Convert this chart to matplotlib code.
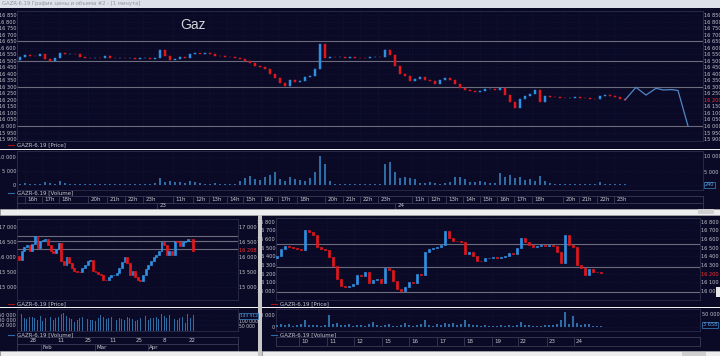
import numpy as np
import matplotlib.pyplot as plt
from matplotlib.patches import Rectangle
from matplotlib.lines import Line2D

BG = '#0a0a26'
TXT = '#c6c6d0'
UP = '#2f8fe0'
DOWN = '#e3161b'
VOLC = '#2e6ca6'
LEVEL = '#6c6c7e'
GRID = '#1a1a44'
EDGE = '#2c2c4c'
FS = 4.0
TFS = 3.6

# ---- top chart: 1 minute bars, one close per bar
top_open0 = 16505
top_close = [16530, 16545, 16540, 16535, 16548, 16510, 16498, 16520, 16558, 16552,
             16555, 16550, 16525, 16522, 16520, 16524, 16518, 16535, 16520, 16518,
             16522, 16518, 16520, 16515, 16518, 16520, 16516, 16520, 16585, 16535,
             16505, 16510, 16530, 16520, 16550, 16558, 16555, 16560, 16550, 16540,
             16535, 16530, 16528, 16520, 16515, 16500, 16480, 16462, 16450, 16440,
             16400, 16370, 16330, 16305, 16350, 16340, 16345, 16372, 16380, 16440,
             16630, 16520, 16530, 16525, 16528, 16522, 16526, 16524, 16522, 16520,
             16525, 16530, 16528, 16585, 16545, 16460, 16398, 16380, 16345, 16360,
             16378, 16350, 16345, 16325, 16350, 16368, 16355, 16320, 16290, 16272,
             16268, 16262, 16270, 16280, 16285, 16278, 16290, 16240, 16180, 16140,
             16210, 16230, 16245, 16275, 16180, 16232, 16225, 16222, 16215, 16212,
             16218, 16222, 16215, 16212, 16210, 16205, 16232, 16238, 16230, 16225,
             16210, 16200]
top_vol = [400, 600, 300, 500, 350, 900, 700, 400, 1500, 600, 500, 400,
           300, 200, 350, 250, 300, 200, 400, 300, 250, 200, 300, 350, 250, 300, 200,
           600, 2400, 1200, 1500, 900, 1100, 700, 1300, 900, 600,
           500, 400, 600, 350, 400, 300, 500,
           1500, 2500, 3200, 2000, 1800,
           2800, 3500, 4500, 2200, 1500,
           3000, 2200, 1800, 1500,
           2500, 4500, 10300, 7500, 1500,
           400, 300, 300, 250, 200, 300, 250, 200, 300, 250,
           7500, 8300, 4800, 2600, 3000, 2400, 2000,
           800, 600, 1000, 700, 500, 600, 900,
           2800, 3000, 2000,
           1200, 1000, 1500, 900, 800, 600,
           4200, 3000, 3500, 2500, 2800, 1800, 2000, 1500,
           3200, 1500, 800,
           300, 250, 200, 300, 250, 200, 300, 250, 200,
           1000, 500, 300, 250, 300, 240]
top_fcast_x = [121.0, 123.2, 125.2, 127.2, 128.6, 130.4, 131.6, 133.6]
top_fcast_y = [16200, 16296, 16237, 16289, 16276, 16279, 16272, 16000]
top_levels = [16650, 16500, 16300, 16000]
top_ticks = list(range(15900, 16851, 50))
top_hour_pos = [1, 4.4, 7.8, 13.6, 17.4, 21, 24.6, 30.6, 34.6, 37.8, 41.4, 44.6, 48.2,
                51.6, 55.4, 61, 64.6, 68, 71.6, 78.4, 81.6, 85.2, 88.6, 92, 95.4,
                98.8, 102.4, 108.6, 111.8, 115.4, 118.8]
top_hour_lab = ['16h', '17h', '18h', '20h', '21h', '22h', '23h', '11h', '12h', '13h',
                '14h', '15h', '16h', '17h', '18h', '20h', '21h', '22h', '23h', '11h',
                '12h', '13h', '14h', '15h', '16h', '17h', '18h', '20h', '21h', '22h', '23h']
top_day_pos = [27.4, 75]
top_day_lab = ['23', '24']

# ---- bottom left: daily bars
bl_open0 = 16030
bl_close = [15920, 16200, 16330, 16400, 16200, 16440, 16700, 16310, 16530, 16590,
            16620, 16400, 16200, 16140, 16290, 16480, 15870, 15750, 16000, 15810,
            15640, 15560, 15510, 15500, 15640, 15750, 15870, 15920, 15530, 15510,
            15440, 15420, 15260, 15250, 15330, 15400, 15400, 15480, 15640, 15850,
            16000, 15810, 15400, 15530, 15330, 15250, 15220, 15400, 15600, 15760,
            15870, 16000, 16090, 16200, 16510, 16400, 16070, 16200, 16070, 16550,
            16510, 16370, 16510, 16550, 16620, 16600, 16208]
bl_vol = [95000, 157000, 120000, 110000, 125000, 128000, 120000, 100000, 135000, 89000,
          115000, 110000, 125000, 105000, 122000, 130000, 160000, 165000, 140000, 120000,
          110000, 86000, 100000, 115000, 125000, 120000, 110000, 105000, 100000, 95000,
          115000, 150000, 130000, 110000, 120000, 125000, 115000, 105000, 122000, 110000,
          100000, 125000, 118000, 110000, 95000, 105000, 120000, 157000, 140000, 100000,
          115000, 120000, 125000, 110000, 160000, 135000, 120000, 150000, 140000, 110000,
          100000, 120000, 130000, 68000, 157000, 120000, 143912]
bl_levels = [16700, 16540, 16280]
bl_ticks = [15000, 15500, 16000, 16500, 17000]
bl_day_pos = [5.3, 15.9, 26.1, 35.6, 45.5, 55, 65.5]
bl_day_lab = ['28', '11', '25', '11', '25', '8', '22']
bl_month_pos = [8.3, 28.8, 48.9]
bl_month_lab = ['Feb', 'Mar', 'Apr']

# ---- bottom right: hourly bars
br_open0 = 16380
br_close = [16400, 16490, 16515, 16505, 16495, 16480, 16470, 16700, 16680, 16650, 16510, 16480, 16470,
            16390, 16290, 16140, 16060, 16050, 16055, 16080, 16180, 16170, 16225, 16090, 16130,
            16145, 16090, 16263, 16240, 16120, 16030, 16005, 16050, 16105, 16090, 16200, 16180,
            16450, 16490, 16495, 16510, 16535, 16690, 16610, 16580, 16575, 16560, 16430, 16455,
            16400, 16350, 16345, 16378, 16385, 16388, 16384, 16390, 16400, 16435, 16430, 16495,
            16610, 16560, 16530, 16512, 16520, 16525, 16515, 16530, 16520, 16450, 16320, 16640,
            16530, 16505, 16300, 16270, 16180, 16250, 16220, 16215, 16208]
br_vol = [9000, 12000, 8000, 11000, 6000, 9000, 14000, 29000, 8000, 10000, 7000, 5000, 9000,
          50000, 12000, 15000, 10000, 8000, 13000, 6000, 9000, 7000, 5000, 12000, 19000,
          8000, 6000, 10000, 14000, 6000, 5000, 9000, 15000, 7000, 5000, 8000, 11000,
          29000, 10000, 6000, 12000, 9000, 15000, 14000, 16000, 9000, 11000, 29000, 13000,
          8000, 7000, 6000, 9000, 5000, 6000, 4000, 7000, 5000, 8000, 6000, 9000,
          19000, 9000, 7000, 6000, 5000, 5000, 8000, 7000, 9000, 12000, 29000, 61000,
          12000, 47000, 15000, 10000, 14000, 11000, 4000, 3000, 3658]
br_levels = [16540, 16275, 15990]
br_ticks = list(range(16000, 16801, 100))
br_day_pos = [5.5, 12.5, 19.25, 26.25, 33, 40, 46.75, 53.75, 60.25, 67.5, 74.25]
br_day_lab = ['10', '11', '12', '15', '16', '17', '18', '19', '22', '23', '24']

W, H = 720, 356


def rect(x0, y0, x1, y1):
    return [x0 / W, 1 - y1 / H, (x1 - x0) / W, (y1 - y0) / H]


def fmt(v):
    return f'{v:,}'.replace(',', ' ')


def style(ax, xlim, ylim, ticks, right=True):
    ax.set_facecolor(BG)
    ax.set_xlim(*xlim)
    ax.set_ylim(*ylim)
    ax.set_xticks([])
    ax.set_yticks(ticks)
    ax.set_yticklabels([fmt(t) for t in ticks])
    ax.tick_params(axis='y', labelleft=True, labelright=right, length=0,
                   labelsize=TFS, labelcolor=TXT, pad=0.6)
    for s in ax.spines.values():
        s.set_color(EDGE)
        s.set_linewidth(0.6)
    for t in ticks:
        ax.axhline(t, color=GRID, lw=0.4, ls=':', zorder=0)


def mark_last(ax, value, label):
    # the current price replaces the nearest right-hand tick label
    for tick in ax.yaxis.get_major_ticks():
        if tick.label2.get_text() == fmt(value):
            tick.label2.set_text(label)
            tick.label2.set_color('#ff3030')


def candles(ax, open0, closes, width, lw=0.5):
    c = np.array(closes, dtype=float)
    o = np.concatenate([[open0], c[:-1]])
    col = np.where(c >= o, UP, DOWN)
    ax.bar(np.arange(len(c)), c - o, bottom=o, width=width, color=col,
           edgecolor=col, linewidth=lw, zorder=3)


def volume(ax, vols, width):
    ax.bar(np.arange(len(vols)), vols, width=width, color=VOLC, linewidth=0, zorder=3)


def vgrid(ax, pos):
    for p in pos:
        ax.axvline(p, color=GRID, lw=0.4, ls=':', zorder=0)


def time_row(ax, xlim, pos, labels, sub_pos=None, sub_labels=None, center=False):
    ax.set_facecolor(BG)
    ax.set_xlim(*xlim)
    ax.set_ylim(0, 1)
    ax.set_xticks([])
    ax.set_yticks([])
    for s in ax.spines.values():
        s.set_color('#3a3a58')
        s.set_linewidth(0.6)
    if sub_pos is not None:
        ax.axhline(0.5, color='#3a3a58', lw=0.6)
    ty = 0.75 if sub_pos is not None else 0.5
    for p, lab in zip(pos, labels):
        if center:
            ax.text(p, ty, lab, color=TXT, fontsize=FS, ha='center', va='center')
        else:
            ax.plot([p, p], [1 - 2 * (1 - ty), 1], color='#3a3a58', lw=0.6)
            ax.text(p + 0.5, ty, lab, color=TXT, fontsize=FS, ha='left', va='center')
    if sub_pos is not None:
        for p, lab in zip(sub_pos, sub_labels):
            ax.plot([p, p], [0, 0.5], color='#3a3a58', lw=0.6)
            ax.text(p + 0.5, 0.25, lab, color=TXT, fontsize=FS, ha='left', va='center')


def legend(fig, x, y, label, color):
    fig.add_artist(Line2D([(x - 9) / W, (x - 3) / W], [1 - y / H] * 2, color=color, lw=0.8))
    fig.text(x / W, 1 - y / H, label, color=TXT, fontsize=FS, va='center', ha='left')


def vol_box(fig, x, y, label, size=TFS):
    fig.text(x / W, 1 - y / H, label, color='#5aa8f0', fontsize=size, va='center', ha='left',
             bbox=dict(boxstyle='square,pad=0.12', fc=BG, ec='#3f86c8', lw=0.5))


def side_text(fig, x, y, label, color=TXT, size=TFS):
    fig.text(x / W, 1 - y / H, label, color=color, fontsize=size, va='center', ha='left')


fig = plt.figure(figsize=(7.2, 3.56), dpi=100, facecolor=BG)

# ---------- top price
top_xlim = (-0.6, 136.6)
ax = fig.add_axes(rect(17, 11, 703, 141))
style(ax, top_xlim, (15885, 16881), top_ticks)
vgrid(ax, top_hour_pos)
for lv in top_levels:
    ax.axhline(lv, color=LEVEL, lw=0.8, zorder=2)
candles(ax, top_open0, top_close, 0.45, lw=0.35)
ax.plot(top_fcast_x, top_fcast_y, color='#4f86c6', lw=0.9, zorder=3)
mark_last(ax, 16200, '16 200')
ax.text(0.257, 0.89, 'Gaz', transform=ax.transAxes, color='#d2d2d8', fontsize=10,
        ha='center', va='center', family=['Liberation Sans', 'DejaVu Sans'])

# ---------- top volume
ax = fig.add_axes(rect(17, 151, 703, 190))
style(ax, top_xlim, (-1785, 12140), [0, 5000, 10000], right=False)
vgrid(ax, top_hour_pos)
volume(ax, top_vol, 0.35)
vol_box(fig, 705, 185, '240')
side_text(fig, 704, 157, '10 000')
side_text(fig, 704, 172, '5 000')

# ---------- top time axis
ax = fig.add_axes(rect(17, 196, 703, 209))
time_row(ax, top_xlim, top_hour_pos, top_hour_lab, top_day_pos, top_day_lab)

# ---------- bottom left price
bl_xlim = (-0.76, 83)
ax = fig.add_axes(rect(17, 219, 238, 300))
style(ax, bl_xlim, (14578, 17276), bl_ticks)
vgrid(ax, bl_day_pos)
for lv in bl_levels:
    ax.axhline(lv, color=LEVEL, lw=0.8, zorder=2)
candles(ax, bl_open0, bl_close, 0.72)
side_text(fig, 239, 251, '16 208', '#ff3030')

# ---------- bottom left volume
ax = fig.add_axes(rect(17, 309, 238, 331))
style(ax, bl_xlim, (-3000, 204500), [50000, 100000, 150000], right=False)
vgrid(ax, bl_day_pos)
volume(ax, bl_vol, 0.35)
side_text(fig, 239, 321.5, '100 000', size=3.3)
side_text(fig, 239, 327, '50 000', size=3.3)
vol_box(fig, 239.5, 316, '143 912', size=3.2)

# ---------- bottom left time axis
ax = fig.add_axes(rect(17, 337, 238, 351))
time_row(ax, bl_xlim, bl_day_pos, bl_day_lab, bl_month_pos, bl_month_lab, center=True)

# ---------- bottom right price
br_xlim = (-0.25, 105.75)
ax = fig.add_axes(rect(276, 218, 700, 300))
style(ax, br_xlim, (15898, 16841), br_ticks)
vgrid(ax, br_day_pos)
for lv in br_levels:
    ax.axhline(lv, color=LEVEL, lw=0.8, zorder=2)
candles(ax, br_open0, br_close, 0.6)
mark_last(ax, 16200, '16 208')

# ---------- bottom right volume
ax = fig.add_axes(rect(276, 309, 700, 331))
style(ax, br_xlim, (-16668, 75000), [0, 50000], right=False)
vgrid(ax, br_day_pos)
volume(ax, br_vol, 0.35)
vol_box(fig, 703, 325, '3 658')
side_text(fig, 702, 315, '50 000')

# ---------- bottom right time axis
ax = fig.add_axes(rect(276, 337, 700, 346))
time_row(ax, br_xlim, br_day_pos, br_day_lab)

# ---------- legends
legend(fig, 17, 145, 'GAZR-6.19 [Price]', '#a01418')
legend(fig, 17, 193, 'GAZR-6.19 [Volume]', VOLC)
legend(fig, 17, 304, 'GAZR-6.19 [Price]', '#a01418')
legend(fig, 17, 335, 'GAZR-6.19 [Volume]', VOLC)
legend(fig, 280, 304, 'GAZR-6.19 [Price]', '#a01418')
legend(fig, 280, 335, 'GAZR-6.19 [Volume]', VOLC)


# ---------- window chrome
def frect(x0, y0, x1, y1, fc, ec='none', lw=0):
    fig.add_artist(Rectangle((x0 / W, 1 - y1 / H), (x1 - x0) / W, (y1 - y0) / H,
                             transform=fig.transFigure, fc=fc, ec=ec, lw=lw))


frect(0, 0, 720, 8, '#dde2ea')
fig.text(2 / W, 1 - 4 / H, 'GAZR-6.19 График цены и объема #2 - [1 минута]',
         color='#8e95a2', fontsize=3.8, va='center')
frect(0, 148.6, 720, 149.8, '#f2f2f2')
frect(0, 209, 720, 215, '#ededed', '#b8b8b8', 0.4)
frect(698, 209.5, 714, 214.5, '#d0d0d0')
frect(0, 306.6, 258, 307.8, '#f2f2f2')
frect(262, 306.6, 720, 307.8, '#f2f2f2')
frect(258, 215, 261.5, 356, '#c8c8c8')
frect(0, 351, 258, 356, '#ededed', '#b8b8b8', 0.4)
frect(262, 351, 720, 356, '#ededed', '#b8b8b8', 0.4)
frect(682, 351.5, 706, 355.5, '#cfcfcf')
frect(716, 287, 720, 297, '#e6e6e6')

fig.savefig('out.png', dpi=100, facecolor=BG)
